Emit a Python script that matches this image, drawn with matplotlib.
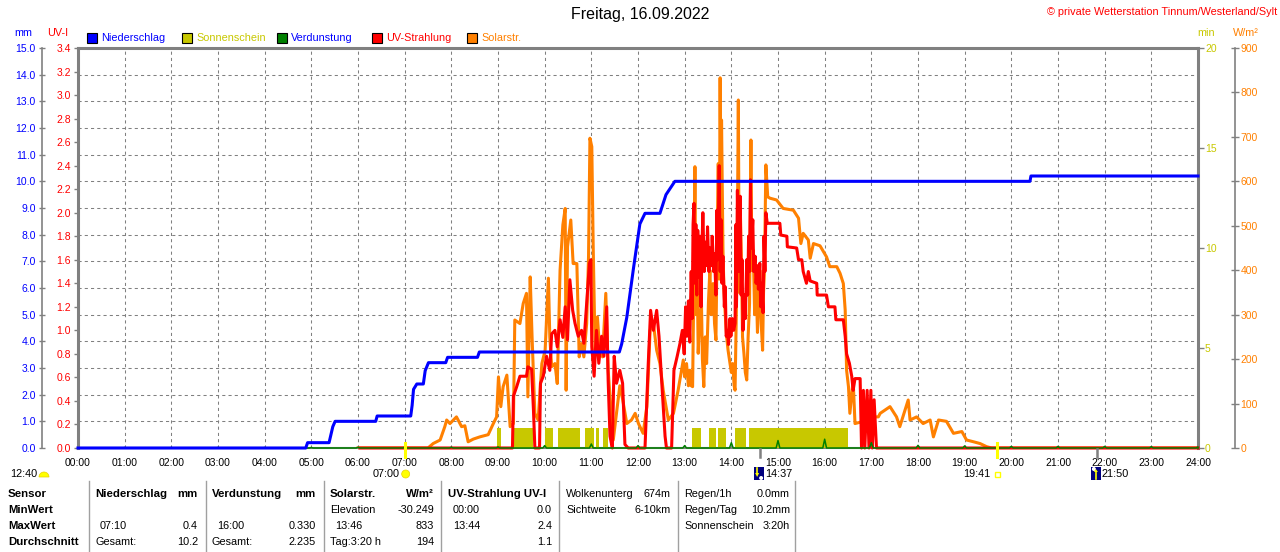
import numpy as np
import matplotlib
matplotlib.use('Agg')
import matplotlib.pyplot as plt
from matplotlib.transforms import IdentityTransform
from matplotlib.patches import Rectangle, Wedge, Circle, Polygon
from matplotlib.lines import Line2D

plt.rcParams['font.family'] = ['Liberation Sans', 'DejaVu Sans']

# ---------------- data ----------------
hours = list(range(25))
hour_labels = [f"{h:02d}:00" for h in hours]

# Niederschlag (cumulative, mm)
rain_t = [0, 4.88, 4.92, 5.38, 5.42, 5.46, 5.51, 6.38, 6.41, 7.13, 7.16, 7.19, 7.26, 7.40,
          7.44, 7.51, 7.88, 7.92, 8.56, 8.60, 11.60, 11.65, 11.76, 11.90, 12.04, 12.15,
          12.47, 12.60, 12.79, 20.40, 20.42, 24.0]
rain_v = [0, 0, 0.2, 0.2, 0.5, 0.8, 1.0, 1.0, 1.2, 1.2, 1.6, 2.2, 2.4, 2.4,
          2.9, 3.2, 3.2, 3.4, 3.4, 3.6, 3.6, 3.9, 4.9, 6.7, 8.4, 8.8,
          8.8, 9.5, 10.0, 10.0, 10.2, 10.2]

# Sonnenschein (minutes per minute), intervals in hours
sun_start = [8.97, 9.34, 10.01, 10.29, 10.86, 11.11, 11.26, 13.15, 13.53, 13.71, 14.08, 14.38]
sun_end = [9.06, 9.74, 10.18, 10.76, 11.06, 11.16, 11.36, 13.36, 13.67, 13.88, 14.31, 16.50]
sun_min = [1] * len(sun_start)

# Verdunstung (hourly, mm)
evap_h = list(range(1, 25))
evap_v = [0.02, 0.02, 0.02, 0.02, 0.02, 0.03, 0.03, 0.03, 0.04, 0.09, 0.15, 0.09,
          0.09, 0.20, 0.28, 0.33, 0.20, 0.10, 0.08, 0.06, 0.06, 0.06, 0.05, 0.04]

# UV-Strahlung (UV-I)
uv_t = [6.04, 9.31, 9.33, 9.40, 9.47, 9.61, 9.64, 9.72, 9.76, 9.79, 9.89, 9.91, 9.97, 10.04,
        10.11, 10.15, 10.22, 10.27, 10.33, 10.39, 10.44, 10.49, 10.54, 10.60, 10.65, 10.72,
        10.79, 10.84, 10.90, 10.96, 10.99, 11.01, 11.06, 11.11, 11.16, 11.22, 11.27, 11.33,
        11.36, 11.40, 11.45, 11.49, 11.54, 11.61, 11.67, 11.72, 11.79, 12.15, 12.22, 12.27,
        12.33, 12.40, 12.45, 12.51, 12.58, 12.61, 12.72, 12.77, 12.84,
        12.90, 12.95, 12.99, 13.02, 13.05, 13.08, 13.11, 13.14, 13.16, 13.18, 13.20, 13.22,
        13.24, 13.26, 13.28, 13.31, 13.33, 13.35, 13.37, 13.39, 13.42, 13.44, 13.47, 13.49,
        13.52, 13.54, 13.57, 13.59, 13.62, 13.64, 13.67, 13.69, 13.71, 13.74, 13.76, 13.78,
        13.80, 13.82, 13.85, 13.87, 13.89, 13.92, 13.94, 13.97, 13.99, 14.02, 14.05, 14.08,
        14.10, 14.11, 14.13, 14.15, 14.17, 14.19, 14.21, 14.23, 14.25, 14.28, 14.30, 14.33,
        14.35, 14.37, 14.39, 14.41, 14.43, 14.46, 14.48, 14.51, 14.53, 14.56, 14.58, 14.61,
        14.63, 14.65, 14.68, 14.70, 14.72, 14.74, 14.77,
        15.04, 15.06, 15.19, 15.20, 15.40, 15.44, 15.51, 15.54, 15.61, 15.65,
        15.69, 15.83, 15.84, 16.04, 16.08, 16.22, 16.24, 16.40, 16.44, 16.47, 16.53, 16.58,
        16.61, 16.65, 16.76, 16.79, 16.83, 16.86, 16.91, 16.95, 16.99, 17.02, 17.06, 17.11, 24.0]
uv_v = [0, 0, 0.44, 0.52, 0.61, 0.61, 0.69, 0.67, 0.32, 0, 0, 0.55, 0.61, 0.78,
        0.66, 0.97, 1.0, 0.86, 1.09, 0.94, 1.2, 0.92, 1.43, 1.17, 1.06, 0.95,
        1.0, 0.89, 1.23, 1.57, 1.6, 0.86, 0.61, 1.0, 0.72, 0.95, 0.78, 1.2,
        0.58, 0.1, 0, 0.78, 0.55, 0.66, 0.55, 0.03, 0, 0, 0.72, 1.17,
        1.0, 1.17, 0.95, 0.55, 0.1, 0, 0, 0.66, 0.78,
        0.89, 1.0, 0.8, 1.2, 0.95, 1.25, 0.9, 1.5, 1.1, 1.9, 2.08, 1.4,
        1.9, 1.3, 1.85, 1.45, 1.8, 1.2, 1.7, 2.0, 1.5, 1.75, 1.55, 1.88,
        1.5, 1.7, 1.55, 1.8, 1.5, 1.65, 1.3, 2.02, 1.6, 2.4, 1.5, 1.94,
        1.4, 1.63, 1.2, 1.37, 0.95, 1.0, 0.88, 1.1, 0.95, 1.1, 1.0, 1.06,
        1.9, 1.2, 2.19, 1.5, 1.9, 2.14, 1.3, 1.6, 1.0, 1.3, 1.1, 1.6,
        1.3, 1.8, 1.5, 2.28, 1.7, 1.94, 1.5, 1.63, 1.4, 1.55, 1.35, 1.57,
        1.2, 1.4, 1.15, 1.8, 1.5, 2.0, 1.91,
        1.91, 1.81, 1.8, 1.71, 1.7, 1.6, 1.6, 1.5, 1.4, 1.5,
        1.42, 1.4, 1.3, 1.3, 1.2, 1.2, 1.09, 1.09, 0.95, 0.8, 0.72, 0.61,
        0.49, 0.59, 0.59, 0, 0.49, 0, 0.49, 0, 0.49, 0, 0.41, 0, 0]

# Solarstrahlung (W/m2)
solar_t = [6.0, 7.50, 7.61, 7.76, 7.86, 7.90, 7.97, 8.11, 8.22, 8.29, 8.36, 8.47, 8.61, 8.79,
           8.90, 8.97, 9.01, 9.06, 9.11, 9.19, 9.26, 9.33, 9.36, 9.47, 9.54, 9.61, 9.64,
           9.69, 9.73, 9.79, 9.86, 9.94, 10.01, 10.08, 10.11, 10.15, 10.22, 10.27, 10.33,
           10.39, 10.44, 10.46, 10.49, 10.56, 10.61, 10.69, 10.74, 10.79, 10.84, 10.90,
           10.94, 10.97, 11.01, 11.04, 11.08, 11.13, 11.17, 11.24, 11.31, 11.36, 11.44,
           11.47, 11.54, 11.61, 11.67, 11.76, 11.86, 11.94, 12.01, 12.11, 12.19, 12.26,
           12.33, 12.40, 12.47, 12.54, 12.65, 12.76, 12.86, 12.97,
           13.00, 13.04, 13.08, 13.11, 13.14, 13.17, 13.20, 13.22, 13.24, 13.26, 13.29, 13.32,
           13.36, 13.38, 13.41, 13.44, 13.47, 13.51, 13.54, 13.57, 13.61, 13.64, 13.67, 13.70,
           13.72, 13.74, 13.76, 13.78, 13.79, 13.82, 13.84, 13.87, 13.90, 13.93, 13.96, 14.00,
           14.03, 14.06, 14.08, 14.11, 14.13, 14.15, 14.17, 14.19, 14.22, 14.24, 14.27, 14.30,
           14.33, 14.36, 14.39, 14.42, 14.44, 14.47, 14.50, 14.53, 14.56, 14.58, 14.61, 14.64,
           14.67, 14.69, 14.71, 14.74, 14.78,
           14.83, 14.97, 15.11, 15.33, 15.44, 15.49, 15.54, 15.65, 15.69, 15.76, 15.90,
           16.04, 16.11, 16.26, 16.33, 16.40, 16.44, 16.47, 16.51, 16.54, 16.61, 16.65,
           16.76, 16.90, 17.04, 17.15, 17.19, 17.40, 17.54, 17.61, 17.79, 17.83, 17.97,
           18.11, 18.26, 18.33, 18.44, 18.61, 18.76, 18.94, 19.04, 19.19, 19.33, 19.47,
           19.58, 24.0]
solar_v = [0, 0, 10, 18, 48, 63, 55, 70, 48, 50, 14, 20, 25, 30,
           55, 70, 160, 93, 138, 164, 48, 55, 288, 280, 325, 348, 115,
           385, 250, 78, 63, 190, 220, 382, 250, 183, 190, 145, 400,
           502, 539, 130, 453, 513, 415, 415, 205, 235, 205, 280,
           430, 697, 678, 453, 220, 295, 235, 205, 348, 175, 63,
           18, 78, 140, 110, 55, 63, 78, 55, 33, 93, 265,
           280, 220, 190, 130, 63, 78, 130, 198,
           160, 190, 140, 175, 140, 138, 400, 633, 300, 475, 213, 290,
           325, 200, 138, 250, 190, 330, 400, 300, 370, 280, 243, 500,
           640, 380, 833, 500, 738, 450, 363, 300, 250, 220, 198, 170,
           190, 140, 130, 325, 500, 783, 350, 550, 400, 250, 213, 170,
           153, 250, 325, 693, 400, 445, 300, 385, 260, 325, 400, 280,
           220, 350, 400, 637, 565,
           562, 558, 539, 535, 517, 460, 483, 468, 427, 460, 455,
           430, 408, 408, 393, 370, 310, 175, 138, 78, 153, 55,
           58, 55, 70, 70, 78, 93, 70, 48, 108, 63, 70,
           55, 63, 25, 63, 60, 33, 37, 18, 14, 10, 3,
           0, 0]

# astronomical marks (hours)
sunrise, sunset = 7.0, 19.683
moonset, moonrise = 14.617, 21.833

title = "Freitag, 16.09.2022"
copyright_text = "© private Wetterstation Tinnum/Westerland/Sylt"

legend_items = ["Niederschlag", "Sonnenschein", "Verdunstung", "UV-Strahlung", "Solarstr."]
legend_face = ["#0000FF", "#C8C800", "#008000", "#FF0000", "#FF8000"]
legend_text = ["#0000FF", "#C8C800", "#0000FF", "#FF0000", "#FF8000"]

row_labels = ["Sensor", "MinWert", "MaxWert", "Durchschnitt"]
table_cols = [
    ("Niederschlag", "mm", [("", ""), ("07:10", "0.4"), ("Gesamt:", "10.2")]),
    ("Verdunstung", "mm", [("", ""), ("16:00", "0.330"), ("Gesamt:", "2.235")]),
    ("Solarstr.", "W/m²", [("Elevation", "-30.249"), ("13:46", "833"), ("Tag:3:20 h", "194")]),
    ("UV-Strahlung UV-I", "", [("00:00", "0.0"), ("13:44", "2.4"), ("", "1.1")]),
]
info_cols = [
    [("Wolkenunterg", "674m"), ("Sichtweite", "6-10km")],
    [("Regen/1h", "0.0mm"), ("Regen/Tag", "10.2mm"), ("Sonnenschein", "3:20h")],
]

# ---------------- figure ----------------
W, H = 1280, 552
fig = plt.figure(figsize=(W / 100, H / 100), dpi=100)
L, R, T, B = 78, 1198, 48, 448
rect = [L / W, 1 - B / H, (R - L) / W, (B - T) / H]
GRAY = '#808080'
ident = IdentityTransform()


def P(x, y):
    return (x, H - y)


def ftext(x, y, s, **kw):
    kw.setdefault('va', 'center')
    kw.setdefault('fontsize', 7.8)
    fig.text(x / W, 1 - y / H, s, **kw)


ax = fig.add_axes(rect)
ax.set_xlim(0, 24)
ax.set_ylim(0, 15)
ax.set_xticks(hours)
ax.set_xticklabels(hour_labels)
ax.set_yticks(range(16))
ax.set_yticklabels([f"{v:.1f}" for v in range(16)])
ax.grid(True, color=GRAY, linestyle=(0, (3, 3)), linewidth=0.75)
ax.tick_params(axis='x', length=0, pad=7.5, labelsize=7.5)
ax.tick_params(axis='y', direction='inout', length=5, color=GRAY, width=1,
               labelcolor='#0000FF', labelsize=7.5, pad=2)
ax.spines['left'].set_position(('outward', 26))
ax.spines['left'].set_color(GRAY)
ax.spines['left'].set_linewidth(1.2)
ax.spines['right'].set_visible(False)
ax.spines['top'].set_color(GRAY)
ax.spines['top'].set_linewidth(2.2)
ax.spines['bottom'].set_color(GRAY)
ax.spines['bottom'].set_linewidth(1.5)

# sunshine axis (min)
ax_min = ax.twinx()
ax_min.set_ylim(0, 20)
ax_min.set_yticks([0, 5, 10, 15, 20])
ax_min.tick_params(axis='y', direction='out', length=4, color=GRAY, width=1,
                   labelcolor='#C8C800', labelsize=7.5, pad=1)
for s in ['left', 'top', 'bottom']:
    ax_min.spines[s].set_visible(False)
ax_min.spines['right'].set_color(GRAY)
ax_min.spines['right'].set_linewidth(2.2)
widths = [e - s for s, e in zip(sun_start, sun_end)]
ax_min.bar(sun_start, sun_min, width=widths, align='edge', color='#C8C800', linewidth=0)

# solar axis (W/m2)
ax_w = ax.twinx()
ax_w.set_ylim(0, 900)
ax_w.set_yticks(range(0, 901, 100))
ax_w.tick_params(axis='y', direction='inout', length=6, color=GRAY, width=1,
                 labelcolor='#FF8000', labelsize=7.5, pad=1)
for s in ['left', 'top', 'bottom']:
    ax_w.spines[s].set_visible(False)
ax_w.spines['right'].set_position(('outward', 26.6))
ax_w.spines['right'].set_color(GRAY)
ax_w.spines['right'].set_linewidth(1.2)
ax_w.plot(solar_t, solar_v, color='#FF8000', lw=2.2)

# UV axis
ax_uv = ax.twinx()
ax_uv.set_ylim(0, 3.4)
uv_ticks = [round(0.2 * i, 1) for i in range(18)]
ax_uv.set_yticks(uv_ticks)
ax_uv.set_yticklabels([f"{v:.1f}" for v in uv_ticks])
ax_uv.yaxis.set_ticks_position('left')
ax_uv.tick_params(axis='y', direction='out', length=3, color=GRAY, width=1,
                  labelcolor='#FF0000', labelsize=7.5, pad=2)
for s in ['right', 'top', 'bottom']:
    ax_uv.spines[s].set_visible(False)
ax_uv.spines['left'].set_visible(True)
ax_uv.spines['left'].set_color(GRAY)
ax_uv.spines['left'].set_linewidth(2.2)
ax_uv.plot(uv_t, uv_v, color='#FF0000', lw=2.2, clip_on=False)

# top layer: rain + evaporation
ax_top = ax.twinx()
ax_top.set_ylim(0, 15)
ax_top.axis('off')
ex, ey = [0.0], [0.0]
for h, v in zip(evap_h, evap_v):
    ex += [h - 0.04, h, min(h + 0.04, 24)]
    ey += [0.0, v, 0.0]
ax_top.plot(ex, ey, color='#008000', lw=1.1, clip_on=False)
ax_top.plot(rain_t, rain_v, color='#0000FF', lw=2.2, clip_on=False)

# ---------------- texts ----------------
fig.text(0.5, 1 - 15 / H, title, ha='center', va='center', fontsize=11.5)
ftext(1277, 12, copyright_text, ha='right', color='#FF0000', fontsize=7.8)

lx = [87, 182, 277, 372, 467]
for x, lab, fc, tc in zip(lx, legend_items, legend_face, legend_text):
    fig.add_artist(Rectangle(P(x, 43), 10, 10, transform=ident, fc=fc, ec='black', lw=0.8))
    ftext(x + 14, 38, lab, color=tc)

ftext(14, 33, "mm", color='#0000FF')
ftext(47, 33, "UV-I", color='#FF0000')
ftext(1197, 33, "min", color='#C8C800')
ftext(1233, 33, "W/m²", color='#FF8000')


def xpx(t):
    return ax.transData.transform((t, 0))[0]


# 12:40 with half sun
ftext(10, 474, "12:40")
fig.add_artist(Wedge(P(44, 477), 5, 0, 180, transform=ident, fc='#FFFF00', ec='#E8D000', lw=0.5))

# sunrise
xs = xpx(sunrise)
fig.add_artist(Line2D([xs, xs], [H - 443, H - 457], transform=ident, color='#FFFF00', lw=2.2))
fig.add_artist(Circle(P(xs + 1, 474), 4, transform=ident, fc='#FFFF00', ec='#E8D000', lw=0.5))
ftext(xs - 5, 474, "07:00", ha='right')

# sunset
xs = xpx(sunset)
fig.add_artist(Line2D([xs, xs], [H - 443, H - 457], transform=ident, color='#FFFF00', lw=2.2))
fig.add_artist(Rectangle(P(xs - 2, 477), 5, 5, transform=ident, fc='none', ec='#FFFF00', lw=1))
ftext(xs - 6, 474, "19:41", ha='right')


def moon_icon(t, up, label):
    x = xpx(t)
    fig.add_artist(Line2D([x, x], [H - 449, H - 457], transform=ident, color=GRAY, lw=1.8))
    fig.add_artist(Rectangle(P(x - 6, 480), 10, 13, transform=ident, fc='#000080', ec='none'))
    if up:
        fig.add_artist(Circle(P(x - 3, 469), 2, transform=ident, fc='white', ec='none'))
        fig.add_artist(Polygon([P(x - 3, 472), P(x + 1, 472), P(x - 1, 469)], closed=True,
                               transform=ident, fc='#FFFF00', ec='none'))
        fig.add_artist(Line2D([x - 1, x - 1], [H - 472, H - 479], transform=ident,
                              color='#FFFF00', lw=1.2))
    else:
        fig.add_artist(Circle(P(x + 1, 478), 2, transform=ident, fc='white', ec='none'))
        fig.add_artist(Line2D([x - 3, x - 3], [H - 468, H - 474], transform=ident,
                              color='#FFFF00', lw=1.2))
        fig.add_artist(Polygon([P(x - 5, 473), P(x - 1, 473), P(x - 3, 477)], closed=True,
                               transform=ident, fc='#FFFF00', ec='none'))
    ftext(x + 5, 474, label)


moon_icon(moonset, False, "14:37")
moon_icon(moonrise, True, "21:50")

# ---------------- table ----------------
row_y = [494, 510, 526, 542]
for y, lab in zip(row_y, row_labels):
    ftext(8, y, lab, fontweight='bold', fontsize=8.2)

for x in [89, 206, 324, 441, 559, 678, 795]:
    fig.add_artist(Line2D([x, x], [H - 481, 0], transform=ident, color='#A0A0A0', lw=1))

col_left = [95, 212, 330, 448]
col_right = [198, 316, 434, 552]
for (hl, hr, rows), xl, xr in zip(table_cols, col_left, col_right):
    ftext(xl, row_y[0], hl, fontweight='bold', fontsize=8.2)
    if hr:
        ftext(xr, row_y[0], hr, fontweight='bold', fontsize=8.2, ha='right')
    for (l, r), y in zip(rows, row_y[1:]):
        indent = 5 if (len(l) == 5 and l[2] == ':') else 0
        if l:
            ftext(xl + indent, y, l)
        if r:
            ftext(xr, y, r, ha='right')

info_left = [566, 684]
info_right = [671, 790]
for rows, xl, xr in zip(info_cols, info_left, info_right):
    for (l, r), y in zip(rows, row_y):
        ftext(xl, y, l)
        ftext(xr, y, r, ha='right')

fig.savefig('out.png', dpi=100)
